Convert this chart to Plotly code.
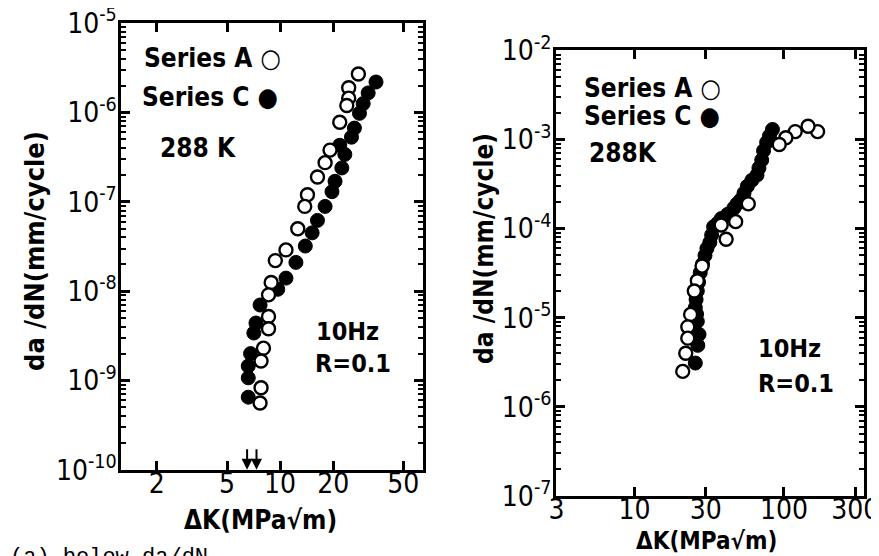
"""Fatigue crack growth rate vs stress intensity range, two panels."""

import math

import plotly.graph_objects as go

# ---- left panel (a) ----
left_a_dk = [27.8, 24.5, 24.5, 23.9, 21.8, 19.2, 18.0, 16.3, 14.3, 13.8, 12.6,
             10.8, 9.4, 8.9, 8.6, 8.6, 8.6, 8.05, 7.8, 7.8, 7.7]
left_a_rate = [2.7e-6, 1.9e-6, 1.45e-6, 1.2e-6, 7.8e-7, 3.8e-7, 2.75e-7, 1.9e-7,
               1.2e-7, 8.9e-8, 5.0e-8, 2.9e-8, 2.2e-8, 1.25e-8, 9.1e-9, 5.2e-9,
               3.8e-9, 2.3e-9, 1.65e-9, 8.3e-10, 5.6e-10]
left_c_dk = [35.0, 31.6, 29.6, 28.2, 26.4, 25.4, 21.8, 23.3, 22.4, 20.5, 19.7,
             18.0, 16.3, 15.2, 13.9, 12.3, 10.8, 9.7, 7.7, 7.3, 7.1, 6.8, 6.6,
             6.6, 6.6]
left_c_rate = [2.2e-6, 1.66e-6, 1.26e-6, 9.8e-7, 6.7e-7, 5.3e-7, 4.3e-7, 3.4e-7,
               2.4e-7, 1.7e-7, 1.3e-7, 8.9e-8, 6.2e-8, 4.5e-8, 3.2e-8, 2.1e-8,
               1.4e-8, 1.05e-8, 7.0e-9, 4.4e-9, 3.4e-9, 2.0e-9, 1.45e-9,
               1.07e-9, 6.5e-10]
threshold_dk = [6.5, 7.35]

# ---- right panel ----
right_a_dk = [168, 145, 119, 103, 93, 57.7, 47.5, 41, 38, 28.3, 26.3, 25.1,
              23.7, 22.7, 22.7, 22.0, 21.0]
right_a_rate = [1.23e-3, 1.41e-3, 1.23e-3, 1.05e-3, 8.8e-4, 1.9e-4, 1.2e-4,
                7.6e-5, 1.1e-4, 3.8e-5, 2.6e-5, 2.0e-5, 1.09e-5, 7.9e-6,
                5.9e-6, 4.0e-6, 2.5e-6]
right_c_dk = [83.8, 80, 76.6, 73, 71, 68, 66, 61, 56.9, 54, 51.3, 48.5, 46.2,
              42, 38.1, 36, 33.8, 32.8, 31.9, 30.5, 29.6, 28.5, 27.5, 26.8,
              26.3, 25.8, 25.5, 26.0, 26.3, 27.0, 26.5, 25.5]
right_c_rate = [1.3e-3, 1.1e-3, 9.3e-4, 7.5e-4, 5.9e-4, 4.8e-4, 4.0e-4, 3.5e-4,
                3.0e-4, 2.5e-4, 2.1e-4, 1.9e-4, 1.7e-4, 1.45e-4, 1.3e-4,
                1.15e-4, 1.05e-4, 8.5e-5, 7.0e-5, 6.0e-5, 5.0e-5, 4.0e-5,
                3.2e-5, 2.5e-5, 2.0e-5, 1.6e-5, 1.3e-5, 1.1e-5, 9.1e-6, 6.5e-6,
                4.9e-6, 3.1e-6]

left_xticks = [2, 5, 10, 20, 50]
right_xticks = [3, 10, 30, 100, 300]
left_yexp = [-10, -9, -8, -7, -6, -5]
right_yexp = [-7, -6, -5, -4, -3, -2]

FONT = "DejaVu Sans Condensed, Liberation Sans Narrow, DejaVu Sans"
INK = "black"


def power_labels(exps):
    return [f"10<sup>{e}</sup>" for e in exps]


def minor_vals(exps):
    return [k * 10.0 ** e for e in exps[:-1] for k in range(2, 10)]


fig = go.Figure()

open_marker = dict(symbol="circle", size=13, color="white",
                   line=dict(color=INK, width=2.4))
filled_marker = dict(symbol="circle", size=14, color=INK,
                     line=dict(color=INK, width=1))

fig.add_trace(go.Scatter(x=left_c_dk, y=left_c_rate, mode="markers",
                         marker=filled_marker, xaxis="x", yaxis="y"))
fig.add_trace(go.Scatter(x=left_a_dk, y=left_a_rate, mode="markers",
                         marker=open_marker, xaxis="x", yaxis="y"))
fig.add_trace(go.Scatter(x=right_c_dk, y=right_c_rate, mode="markers",
                         marker=filled_marker, xaxis="x2", yaxis="y2"))
fig.add_trace(go.Scatter(x=right_a_dk, y=right_a_rate, mode="markers",
                         marker=open_marker, xaxis="x2", yaxis="y2"))

axis_common = dict(
    type="log",
    showgrid=False,
    zeroline=False,
    showline=True,
    linecolor=INK,
    linewidth=3,
    mirror="ticks",
    ticks="inside",
    ticklen=9,
    tickwidth=2.5,
    tickcolor=INK,
    automargin=False,
    ticklabeloverflow="allow",
    tickfont=dict(family=FONT, size=28, color=INK),
)
y_minor = dict(ticks="inside", ticklen=5, tickwidth=1.8, tickcolor=INK)

fig.update_layout(
    width=879,
    height=556,
    paper_bgcolor="white",
    plot_bgcolor="white",
    showlegend=False,
    margin=dict(l=0, r=0, t=0, b=0),
    xaxis=dict(
        axis_common, domain=[0.129, 0.472], anchor="y",
        range=[0.1, 1.81], tickvals=left_xticks,
        ticktext=[str(v) for v in left_xticks], ticklabelstandoff=-14,
    ),
    yaxis=dict(
        axis_common, domain=[0.169, 0.973], anchor="x",
        range=[-10.003, -4.997], tickvals=[10 ** e for e in left_yexp],
        ticktext=power_labels(left_yexp), ticklabelstandoff=-4,
        minor=dict(y_minor, tickvals=minor_vals(left_yexp)),
    ),
    xaxis2=dict(
        axis_common, domain=[0.6235, 0.974], anchor="y2",
        range=[0.474, 2.537], tickvals=right_xticks,
        ticktext=[str(v) for v in right_xticks], ticklabelstandoff=-14,
    ),
    yaxis2=dict(
        axis_common, domain=[0.122, 0.924], anchor="x2",
        range=[-7.003, -1.997], tickvals=[10 ** e for e in right_yexp],
        ticktext=power_labels(right_yexp), ticklabelstandoff=-4,
        minor=dict(y_minor, tickvals=minor_vals(right_yexp)),
    ),
)


def note(text, x, y, size=26, angle=0, anchor="left"):
    fig.add_annotation(text=text, x=x, y=y, xref="paper", yref="paper",
                       showarrow=False, xanchor=anchor, yanchor="middle",
                       textangle=angle,
                       font=dict(family=FONT, size=size, color=INK))


# axis titles
note("<b>da /dN(mm/cycle)</b>", 27 / 879, 1 - 243 / 556, size=27, angle=-90,
     anchor="center")
note("<b>da /dN(mm/cycle)</b>", 476 / 879, 1 - 241 / 556, size=26, angle=-90,
     anchor="center")
note("<b>ΔK(MPa√m)</b>", 252 / 879, 1 - 512 / 556, size=26, anchor="center")
note("<b>ΔK(MPa√m)</b>", 698 / 879, 1 - 533 / 556, size=24, anchor="center")

# left panel labels
note("<b>Series A ○</b>", 134 / 879, 1 - 50 / 556)
note("<b>Series C ●</b>", 132 / 879, 1 - 89 / 556)
note("<b>288 K</b>", 150 / 879, 1 - 140 / 556)
note("<b>10Hz</b>", 306 / 879, 1 - 323 / 556, size=25)
note("<b>R=0.1</b>", 305 / 879, 1 - 355 / 556, size=25)

# right panel labels
note("<b>Series A ○</b>", 574 / 879, 1 - 80 / 556)
note("<b>Series C ●</b>", 574 / 879, 1 - 108 / 556)
note("<b>288K</b>", 579 / 879, 1 - 145 / 556)
note("<b>10Hz</b>", 748 / 879, 1 - 340 / 556, size=25)
note("<b>R=0.1</b>", 748 / 879, 1 - 375 / 556, size=25)

# threshold arrows on the left panel (log axes take log10 coordinates)
for dk in threshold_dk:
    fig.add_annotation(x=math.log10(dk), y=-10, xref="x", yref="y", text="",
                       showarrow=True, arrowhead=2, arrowsize=1.1,
                       arrowwidth=2, arrowcolor=INK, ax=0, ay=-22)

# caption fragment at the bottom
fig.add_annotation(text="(a) below da/dN", x=0.0, y=1 - 535 / 556,
                   xref="paper", yref="paper", showarrow=False,
                   xanchor="left", yanchor="top",
                   font=dict(family="Liberation Mono", size=22, color=INK))

fig.write_html("out.html")
